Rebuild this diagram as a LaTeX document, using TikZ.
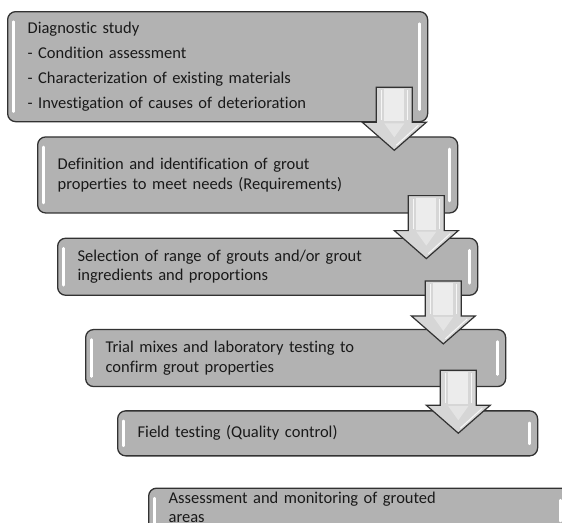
\documentclass[tikz,border=0pt]{standalone}
\usepackage{fontspec}
\setmainfont{Carlito}[Ligatures={NoCommon}]
\usetikzlibrary{positioning, calc}
\definecolor{boxgray}{RGB}{178,178,178}
\definecolor{edgegray}{RGB}{50,50,50}
\definecolor{arrowgray}{RGB}{214,214,214}
\tikzstyle{block} = [rectangle, draw=edgegray, line width=1.3pt, fill=boxgray,
  rounded corners=8pt, anchor=north west, minimum width=420pt, text width=380pt,
  inner xsep=20pt, align=left, font=\fontsize{16.5}{19.5}\selectfont, text=black!90,
  path picture={
    \draw[white, line width=2.6pt, line cap=round]
      ([xshift=6pt, yshift=-10pt]path picture bounding box.north west) --
      ([xshift=6pt, yshift=10pt]path picture bounding box.south west);
    \draw[white, line width=2.6pt, line cap=round]
      ([xshift=-8pt, yshift=-12pt]path picture bounding box.north east) --
      ([xshift=-8pt, yshift=12pt]path picture bounding box.south east);
  }]
\tikzset{
  pics/blkarrow/.style={code={
    \draw[edgegray, line width=1.2pt, fill=arrowgray, line join=miter]
      (-18,0) -- (18,0) -- (18,35) -- (32,35) -- (0,63) -- (-32,35) -- (-18,35) -- cycle;
    \fill[white, opacity=0.55] (-10,2) rectangle (10,34);
    \fill[white, opacity=0.35] (-10,36) -- (10,36) -- (0,50) -- cycle;
    \draw[white, opacity=0.8, line width=1pt] (13,3) -- (13,33) (-13,3) -- (-13,33);
    \draw[white, opacity=0.8, line width=1pt] (24,38) -- (2,58);
  }}
}

\begin{document}
\begin{tikzpicture}[x=1pt, y=-1pt]
\useasboundingbox (0,0) rectangle (562,522);
\node [block, minimum height=110pt, font=\fontsize{16.5}{18.5}\selectfont] (b1) at (7,11)
  {Diagnostic study\\[6.5pt]- Condition assessment\\[6.5pt]- Characterization of existing materials\\[6.5pt]- Investigation of causes of deterioration};
\node [block, minimum height=76pt, below=14pt of b1.south west, anchor=north west, xshift=30pt] (b2)
  {Definition and identification of grout\\properties to meet needs (Requirements)};
\node [block, minimum height=57pt, below=24pt of b2.south west, anchor=north west, xshift=20pt] (b3)
  {Selection of range of grouts and/or grout\\ingredients and proportions};
\node [block, minimum height=57pt, below=33pt of b3.south west, anchor=north west, xshift=28pt] (b4)
  {Trial mixes and laboratory testing to\\confirm grout properties};
\node [block, minimum height=45pt, below=23pt of b4.south west, anchor=north west, xshift=32pt] (b5)
  {Field testing (Quality control)};
\node [block, minimum height=45pt, text depth=26pt, below=31pt of b5.south west, anchor=north west, xshift=31pt] (b6)
  {Assessment and monitoring of grouted\\areas};
\pic (a1) at ([xshift=-34pt, yshift=35pt]b1.south east) {blkarrow};
\pic (a2) at ([xshift=-32pt, yshift=18pt]b2.south east) {blkarrow};
\pic (a3) at ([xshift=-35pt, yshift=15pt]b3.south east) {blkarrow};
\pic (a4) at ([xshift=-48pt, yshift=17pt]b4.south east) {blkarrow};
\end{tikzpicture}
\end{document}
